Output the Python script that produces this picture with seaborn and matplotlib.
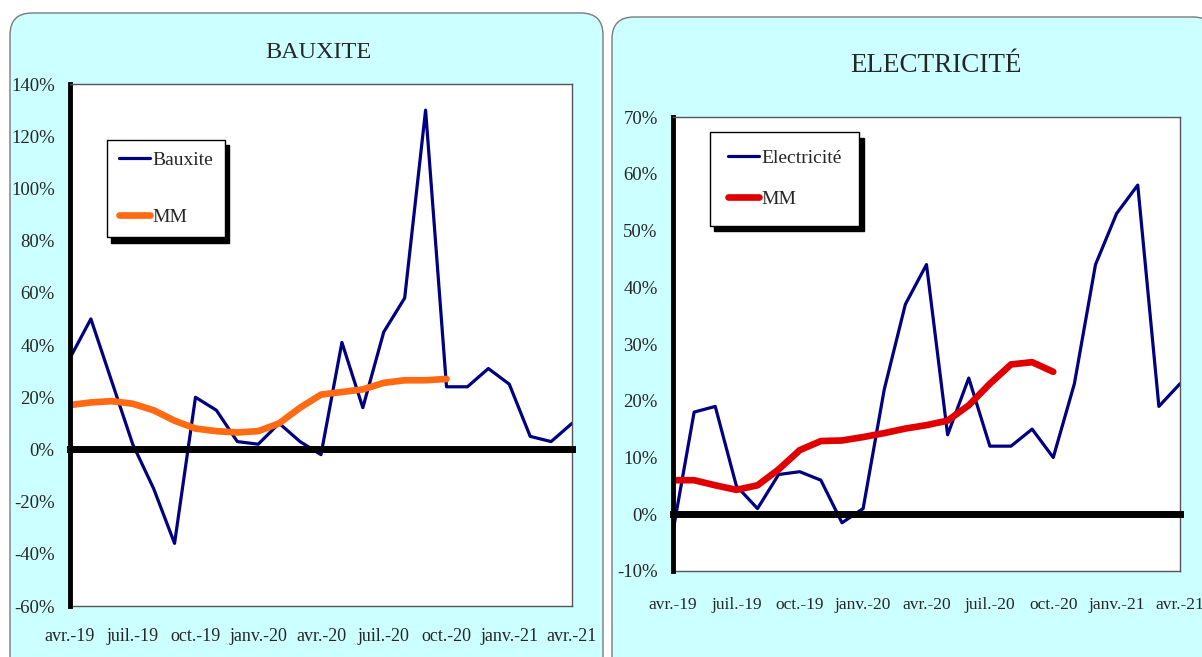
import numpy as np
import matplotlib
matplotlib.use("Agg")
import matplotlib.pyplot as plt
from matplotlib.patches import FancyBboxPatch
import seaborn as sns

# ---- data (monthly, avr.-19 -> avr.-21) ----
months = np.arange(25)
tick_pos = [0, 3, 6, 9, 12, 15, 18, 21, 24]
tick_labels = ["avr.-19", "juil.-19", "oct.-19", "janv.-20", "avr.-20",
               "juil.-20", "oct.-20", "janv.-21", "avr.-21"]

bauxite = [35, 50, 26, 2, -15, -36, 20, 15, 3, 2, 10, 3, -2, 41, 16, 45,
           58, 130, 24, 24, 31, 25, 5, 3, 10]
bauxite_mm = [17, 18, 18.5, 17.5, 15, 11, 8, 7, 6.5, 7, 10, 16, 21, 22,
              23, 25.5, 26.5, 26.5, 27]

elec = [-3, 18, 19, 5, 1, 7, 7.5, 6, -1.5, 1, 22, 37, 44, 14, 24, 12, 12,
        15, 10, 23, 44, 53, 58, 19, 23]
elec_mm = [6, 6, 5.1, 4.3, 5.1, 7.9, 11.3, 12.9, 13, 13.6, 14.3, 15.1,
           15.7, 16.5, 19.2, 23, 26.4, 26.8, 25.1]

sns.set_style("white")
plt.rcParams["font.family"] = ["Liberation Serif", "DejaVu Serif"]

fig = plt.figure(figsize=(12.02, 6.57), dpi=100)
fig.patch.set_facecolor("white")

# cyan rounded panels
for x0, x1, top in [(0.10, 6.03, 6.44), (6.12, 12.15, 6.40)]:
    panel = FancyBboxPatch((x0, -0.3), x1 - x0, top + 0.3,
                           boxstyle="round,pad=0,rounding_size=0.22",
                           transform=fig.dpi_scale_trans, facecolor="#CCFFFF",
                           edgecolor="#7a7a7a", linewidth=1.0, zorder=-1)
    fig.patches.append(panel)


def make_panel(rect, series, mm, name, mm_col, ylim, ystep, title, title_xy,
               title_size, leg_anchor, leg_opts, xpad, xsize):
    ax = fig.add_axes(rect)
    ax.set_facecolor("white")
    sns.lineplot(x=months, y=series, ax=ax, color="#000080", linewidth=2.3,
                 label=name)
    sns.lineplot(x=months[:len(mm)], y=mm, ax=ax, color=mm_col,
                 linewidth=4.8, label="MM")
    for ln in ax.lines:
        ln.set_solid_joinstyle("round")
        ln.set_solid_capstyle("round")
    ax.set_xlim(0, 24)
    ax.set_ylim(*ylim)
    yt = np.arange(ylim[0], ylim[1] + 1, ystep)
    ax.set_yticks(yt, labels=[f"{v:d}%" for v in yt])
    ax.tick_params(axis="y", direction="out", length=3, width=3, color="black",
                   labelsize=13.5, pad=8)

    # zero line with upward ticks
    ax.spines["bottom"].set_position(("data", 0))
    ax.spines["bottom"].set_linewidth(5)
    ax.spines["bottom"].set_color("black")
    ax.spines["left"].set_linewidth(3.5)
    ax.spines["left"].set_color("black")
    for s in ["top", "right"]:
        ax.spines[s].set_color("#555555")
        ax.spines[s].set_linewidth(1)
    ax.set_xticks(tick_pos)
    ax.tick_params(axis="x", direction="in", length=7, width=3, color="black",
                   labelbottom=False)

    # labels at the bottom of the plot area
    sec = ax.secondary_xaxis("bottom")
    sec.set_xticks(tick_pos, labels=tick_labels)
    sec.tick_params(length=0, labelsize=xsize, pad=xpad)
    sec.spines["bottom"].set_color("#555555")
    sec.spines["bottom"].set_linewidth(1)
    ax.set_xlabel("")
    ax.set_ylabel("")

    leg = ax.legend(loc="upper left", bbox_to_anchor=leg_anchor, fontsize=14,
                    frameon=True, fancybox=False, framealpha=1,
                    edgecolor="black", handlelength=1.6, handletextpad=0.15,
                    borderaxespad=0,
                    shadow={"ox": 3, "oy": -4, "facecolor": "black",
                            "edgecolor": "black", "alpha": 1},
                    **leg_opts)
    leg.get_frame().set_linewidth(1)

    fig.text(title_xy[0], title_xy[1], title, ha="center", va="center",
             fontsize=title_size)
    return ax


make_panel([0.0582, 0.0776, 0.4177, 0.7945], bauxite, bauxite_mm, "Bauxite",
           "#FF6A13", (-60, 140), 20, "BAUXITE",
           (318 / 1202, 1 - 52 / 657), 17.5, (0.074, 0.893),
           dict(borderpad=0.6, labelspacing=2.0), 16, 13)

make_panel([0.5599, 0.1309, 0.4218, 0.6910], elec, elec_mm, "Electricité",
           "#E00000", (-10, 70), 10, "ELECTRICITÉ",
           (936 / 1202, 1 - 65 / 657), 19.5, (0.073, 0.967),
           dict(borderpad=0.9, labelspacing=1.2), 19, 12.5)

fig.savefig("out.png", dpi=100)
